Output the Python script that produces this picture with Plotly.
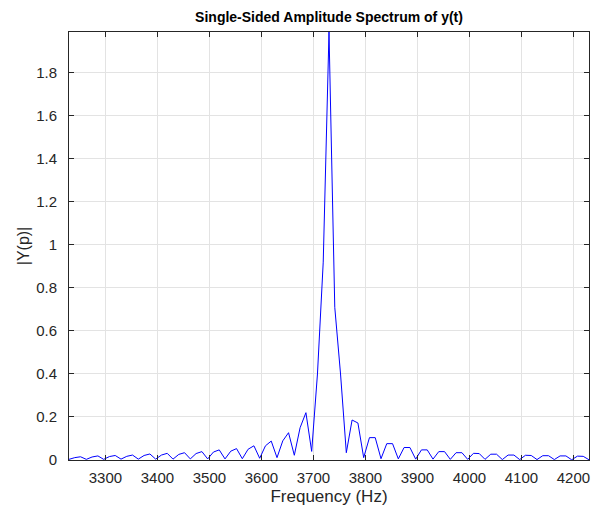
import plotly.graph_objects as go

# Frequency bins (Hz)
freq = [
    3230.0, 3241.1, 3252.2, 3263.3, 3274.4, 3285.6, 3296.7, 3307.8, 3318.9,
    3330.0, 3341.1, 3352.2, 3363.3, 3374.4, 3385.6, 3396.7, 3407.8, 3418.9,
    3430.0, 3441.1, 3452.2, 3463.3, 3474.4, 3485.6, 3496.7, 3507.8, 3518.9,
    3530.0, 3541.1, 3552.2, 3563.3, 3574.4, 3585.6, 3596.7, 3607.8, 3618.9,
    3630.0, 3641.1, 3652.2, 3663.3, 3674.4, 3685.6, 3696.7, 3707.8, 3718.9,
    3730.0, 3741.1, 3752.2, 3763.3, 3774.4, 3785.6, 3796.7, 3807.8, 3818.9,
    3830.0, 3841.1, 3852.2, 3863.3, 3874.4, 3885.6, 3896.7, 3907.8, 3918.9,
    3930.0, 3941.1, 3952.2, 3963.3, 3974.4, 3985.6, 3996.7, 4007.8, 4018.9,
    4030.0, 4041.1, 4052.2, 4063.3, 4074.4, 4085.6, 4096.7, 4107.8, 4118.9,
    4130.0, 4141.1, 4152.2, 4163.3, 4174.4, 4185.6, 4196.7, 4207.8, 4218.9,
    4230.0,
]

# |Y(p)| amplitude values
amp = [
    0.003, 0.011, 0.015, 0.003, 0.014, 0.019, 0.003, 0.016, 0.021,
    0.004, 0.017, 0.023, 0.004, 0.021, 0.028, 0.004, 0.023, 0.031,
    0.004, 0.026, 0.034, 0.005, 0.030, 0.039, 0.005, 0.037, 0.047,
    0.005, 0.041, 0.053, 0.006, 0.050, 0.066, 0.008, 0.066, 0.088,
    0.011, 0.089, 0.127, 0.022, 0.150, 0.220, 0.040, 0.400, 0.920,
    1.990, 0.710, 0.400, 0.034, 0.186, 0.172, 0.011, 0.104, 0.104,
    0.006, 0.076, 0.076, 0.005, 0.058, 0.058, 0.004, 0.047, 0.047,
    0.004, 0.039, 0.039, 0.003, 0.034, 0.034, 0.003, 0.031, 0.030,
    0.003, 0.027, 0.027, 0.002, 0.023, 0.023, 0.002, 0.022, 0.021,
    0.002, 0.020, 0.020, 0.002, 0.019, 0.019, 0.001, 0.018, 0.017,
    0.001,
]

x_ticks = [3300, 3400, 3500, 3600, 3700, 3800, 3900, 4000, 4100, 4200]
y_ticks = [0, 0.2, 0.4, 0.6, 0.8, 1, 1.2, 1.4, 1.6, 1.8]
y_tick_text = ["0", "0.2", "0.4", "0.6", "0.8", "1", "1.2", "1.4", "1.6", "1.8"]

FONT = "Arial, Liberation Sans, Helvetica, sans-serif"
AX = "#262626"

fig = go.Figure()
fig.add_trace(go.Scatter(
    x=freq, y=amp, mode="lines",
    line=dict(color="#0000ff", width=1),
    showlegend=False,
))

axis_common = dict(
    showline=True, linecolor=AX, linewidth=1, mirror="ticks",
    ticks="inside", ticklen=5, tickwidth=1, tickcolor=AX,
    showgrid=True, gridcolor="#e3e3e3", gridwidth=1,
    zeroline=False,
    tickfont=dict(family=FONT, size=15, color=AX),
)

fig.update_layout(
    width=599, height=514,
    margin=dict(l=69, r=10, t=32, b=54),
    paper_bgcolor="white", plot_bgcolor="white",
    title=dict(
        text="<b>Single-Sided Amplitude Spectrum of y(t)</b>",
        x=0.5493, xanchor="center", y=0.967, yanchor="middle",
        font=dict(family=FONT, size=14, color="black"),
    ),
    xaxis=dict(
        range=[3230, 4230], tickvals=x_ticks, ticklabelstandoff=4,
        title=dict(text="Frequency (Hz)", font=dict(family=FONT, size=17, color=AX), standoff=5),
        **axis_common,
    ),
    yaxis=dict(
        range=[0, 1.99], tickvals=y_ticks, ticktext=y_tick_text, ticklabelstandoff=8,
        title=dict(text="|Y(p)|", font=dict(family=FONT, size=16, color=AX), standoff=2),
        **axis_common,
    ),
)

fig.write_html("out.html")
